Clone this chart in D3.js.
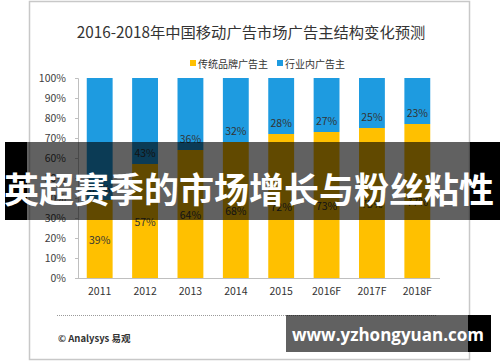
<!DOCTYPE html>
<html>
<head>
<meta charset="utf-8">
<script src="https://cdn.jsdelivr.net/npm/d3@7"></script>
<style>
  body { margin: 0; background: #fff; }
  svg { display: block; font-family: "Noto Sans CJK SC", "Noto Sans", sans-serif; }
</style>
</head>
<body>
<div id="chart"></div>
<script>
// data
const years = ["2011", "2012", "2013", "2014", "2015", "2016F", "2017F", "2018F"];
const brandShare = [39, 57, 64, 68, 72, 73, 75, 77];   // 传统品牌广告主
const industryShare = [61, 43, 36, 32, 28, 27, 25, 23]; // 行业内广告主
const seriesNames = ["传统品牌广告主", "行业内广告主"];
const yTicks = [0, 10, 20, 30, 40, 50, 60, 70, 80, 90, 100];

const title = "2016-2018年中国移动广告市场广告主结构变化预测";
const source = "© Analysys 易观";
const banner = "英超赛季的市场增长与粉丝粘性";
const siteMark = "www.yzhongyuan.com";

const yellow = "#FFC000";
const blue = "#1E9BE0";

var width = 500, height = 362;

var svg = d3.select("#chart").append("svg")
    .attr("width", width)
    .attr("height", height);

// frame
svg.append("rect")
    .attr("x", 29.5).attr("y", 1.5)
    .attr("width", 440).attr("height", 358)
    .attr("fill", "#fff")
    .attr("stroke", "#c8c8c8")
    .attr("stroke-width", 1.5);

svg.append("text")
    .attr("x", 251).attr("y", 31)
    .attr("text-anchor", "middle")
    .attr("dominant-baseline", "central")
    .style("font-size", "15.3px")
    .attr("fill", "#333")
    .text(title);

// legend
const legend = svg.append("g").attr("transform", "translate(190,63)");
const legendX = [0, 87];
seriesNames.forEach((name, i) => {
    legend.append("rect")
        .attr("x", legendX[i]).attr("y", -3)
        .attr("width", 6).attr("height", 6)
        .attr("fill", i == 0 ? yellow : blue);
    legend.append("text")
        .attr("x", legendX[i] + 8).attr("y", 0)
        .attr("dominant-baseline", "central")
        .style("font-size", "10px")
        .attr("fill", "#333")
        .text(name);
});

const x = d3.scaleBand()
    .domain(years)
    .range([77, 440])
    .paddingInner(0.43)
    .paddingOuter(0.215);

const y = d3.scaleLinear()
    .domain([0, 100])
    .range([278, 78]);

// bars
const bars = svg.append("g");
bars.selectAll(".brand")
    .data(brandShare)
    .enter().append("rect")
    .attr("x", (d, i) => x(years[i]))
    .attr("y", d => y(d))
    .attr("width", x.bandwidth())
    .attr("height", d => y(0) - y(d))
    .attr("fill", yellow);

bars.selectAll(".industry")
    .data(industryShare)
    .enter().append("rect")
    .attr("x", (d, i) => x(years[i]))
    .attr("y", (d, i) => y(brandShare[i] + d))
    .attr("width", x.bandwidth())
    .attr("height", (d, i) => y(brandShare[i]) - y(brandShare[i] + d))
    .attr("fill", blue);

// axes
const yAxis = svg.append("g")
    .attr("transform", "translate(78,0)")
    .call(d3.axisLeft(y).tickValues(yTicks).tickSize(3).tickPadding(9).tickFormat(d => d + "%"));
yAxis.select(".domain").attr("stroke", "#bfbfbf");
yAxis.selectAll("line").attr("stroke", "#bfbfbf");
yAxis.selectAll("text")
    .style("font-size", "10.5px")
    .style("font-family", "'Noto Sans CJK SC', sans-serif")
    .attr("fill", "#404040");

const xAxis = svg.append("g")
    .attr("transform", "translate(0,278)")
    .call(d3.axisBottom(x).tickSize(0).tickPadding(10).tickSizeOuter(0));
xAxis.select(".domain").attr("stroke", "#bfbfbf").attr("d", "M78,0.5H440");
xAxis.selectAll("text")
    .style("font-size", "10.5px")
    .style("font-family", "'Noto Sans CJK SC', sans-serif")
    .attr("fill", "#333");

// value labels
const labels = svg.append("g")
    .style("font-size", "10.5px")
    .attr("fill", "#333")
    .attr("text-anchor", "middle")
    .attr("dominant-baseline", "central");

labels.selectAll(".lb")
    .data(brandShare)
    .enter().append("text")
    .attr("x", (d, i) => x(years[i]) + x.bandwidth() / 2)
    .attr("y", d => y(d / 2))
    .text(d => d + "%");

labels.selectAll(".li")
    .data(industryShare)
    .enter().append("text")
    .attr("x", (d, i) => x(years[i]) + x.bandwidth() / 2)
    .attr("y", (d, i) => y(brandShare[i]) - 12)
    .text(d => d + "%");

// footer
svg.append("line")
    .attr("x1", 57).attr("x2", 437)
    .attr("y1", 315.5).attr("y2", 315.5)
    .attr("stroke", "#9a9a9a")
    .attr("stroke-dasharray", "1,1");

svg.append("text")
    .attr("x", 58).attr("y", 338)
    .attr("dominant-baseline", "central")
    .style("font-size", "9.5px")
    .style("font-weight", "bold")
    .attr("fill", "#333")
    .text(source);

// overlay banner
svg.append("rect")
    .attr("x", 5).attr("y", 142).attr("width", 22).attr("height", 78)
    .attr("fill", "#000");
svg.append("rect")
    .attr("x", 470).attr("y", 142).attr("width", 30).attr("height", 78)
    .attr("fill", "#000");
svg.append("rect")
    .attr("x", 27).attr("y", 142).attr("width", 443).attr("height", 78)
    .attr("fill", "rgba(0,0,0,0.62)");
svg.append("text")
    .attr("x", 249).attr("y", 187)
    .attr("text-anchor", "middle")
    .attr("dominant-baseline", "central")
    .style("font-size", "35px")
    .style("font-weight", "bold")
    .attr("fill", "#fff")
    .text(banner);

// site mark
svg.append("rect")
    .attr("x", 468).attr("y", 315).attr("width", 23).attr("height", 37)
    .attr("fill", "#000");
svg.append("rect")
    .attr("x", 286).attr("y", 315).attr("width", 182).attr("height", 37)
    .attr("fill", "rgba(0,0,0,0.62)");
svg.append("text")
    .attr("x", 388).attr("y", 334)
    .attr("text-anchor", "middle")
    .attr("dominant-baseline", "central")
    .style("font-size", "17px")
    .style("font-weight", "bold")
    .style("font-family", "'Open Sans', sans-serif")
    .attr("fill", "#fff")
    .text(siteMark);
</script>
</body>
</html>
